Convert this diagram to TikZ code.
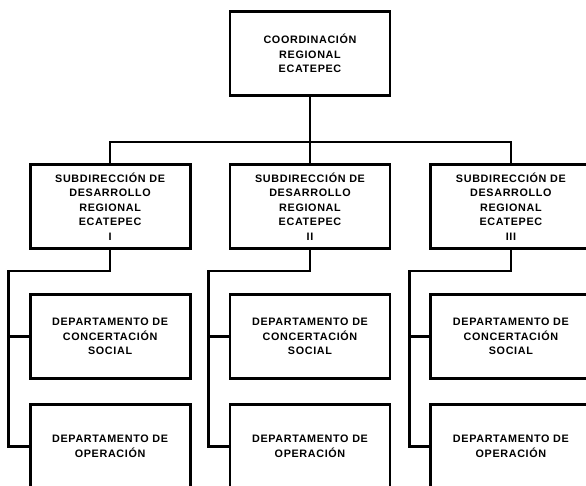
\documentclass[tikz,border=0pt]{standalone}
\usepackage{fontspec}
\setmainfont{Liberation Sans}[LetterSpace=6]
\usetikzlibrary{positioning}

\begin{document}
\begin{tikzpicture}[
        x=1pt, y=-1pt,
        node distance=1cm, auto,
        unit/.style={
            rectangle,
            draw,
            line width=2.9pt,
            minimum width=160pt,
            minimum height=84pt,
            align=center,
            font=\fontsize{10.8}{14.5}\selectfont\bfseries
        },
        link/.style={
            -,
            line width=2.7pt
        }
    ]
        \useasboundingbox (0,0) rectangle (586,485);
        \clip (0,0) rectangle (586,485);

        \node (cr) [unit] at (310,53.5)
        {
            COORDINACIÓN\\
            REGIONAL\\
            ECATEPEC
        };

        \node (s2) [unit, below=66pt of cr]
        {
            SUBDIRECCIÓN DE\\
            DESARROLLO\\
            REGIONAL\\
            ECATEPEC\\
            II
        };

        \node (s1) [unit, left=37pt of s2]
        {
            SUBDIRECCIÓN DE\\
            DESARROLLO\\
            REGIONAL\\
            ECATEPEC\\
            I
        };

        \node (s3) [unit, right=38pt of s2]
        {
            SUBDIRECCIÓN DE\\
            DESARROLLO\\
            REGIONAL\\
            ECATEPEC\\
            III
        };

        \node (c1) [unit, below=43pt of s1]
        {
            DEPARTAMENTO DE\\
            CONCERTACIÓN\\
            SOCIAL
        };
        \node (o1) [unit, below=23pt of c1]
        {
            DEPARTAMENTO DE\\
            OPERACIÓN
        };

        \node (c2) [unit, below=43pt of s2]
        {
            DEPARTAMENTO DE\\
            CONCERTACIÓN\\
            SOCIAL
        };
        \node (o2) [unit, below=23pt of c2]
        {
            DEPARTAMENTO DE\\
            OPERACIÓN
        };

        \node (c3) [unit, below=43pt of s3]
        {
            DEPARTAMENTO DE\\
            CONCERTACIÓN\\
            SOCIAL
        };
        \node (o3) [unit, below=23pt of c3]
        {
            DEPARTAMENTO DE\\
            OPERACIÓN
        };

        \draw[link] (cr.south) -- (s2.north);
        \draw[link] (cr.south) -- ++(0,45) -| (s1.north);
        \draw[link] (cr.south) -- ++(0,45) -| (s3.north);

        \draw[link] (s1.south) -- ++(0,21) -| ([xshift=-20pt]c1.west) |- (o1.west);
        \draw[link] ([xshift=-20pt]c1.west) -- (c1.west);
        \draw[link] (s2.south) -- ++(0,21) -| ([xshift=-20pt]c2.west) |- (o2.west);
        \draw[link] ([xshift=-20pt]c2.west) -- (c2.west);
        \draw[link] (s3.south) -- ++(0,21) -| ([xshift=-20pt]c3.west) |- (o3.west);
        \draw[link] ([xshift=-20pt]c3.west) -- (c3.west);
    \end{tikzpicture}
\end{document}
